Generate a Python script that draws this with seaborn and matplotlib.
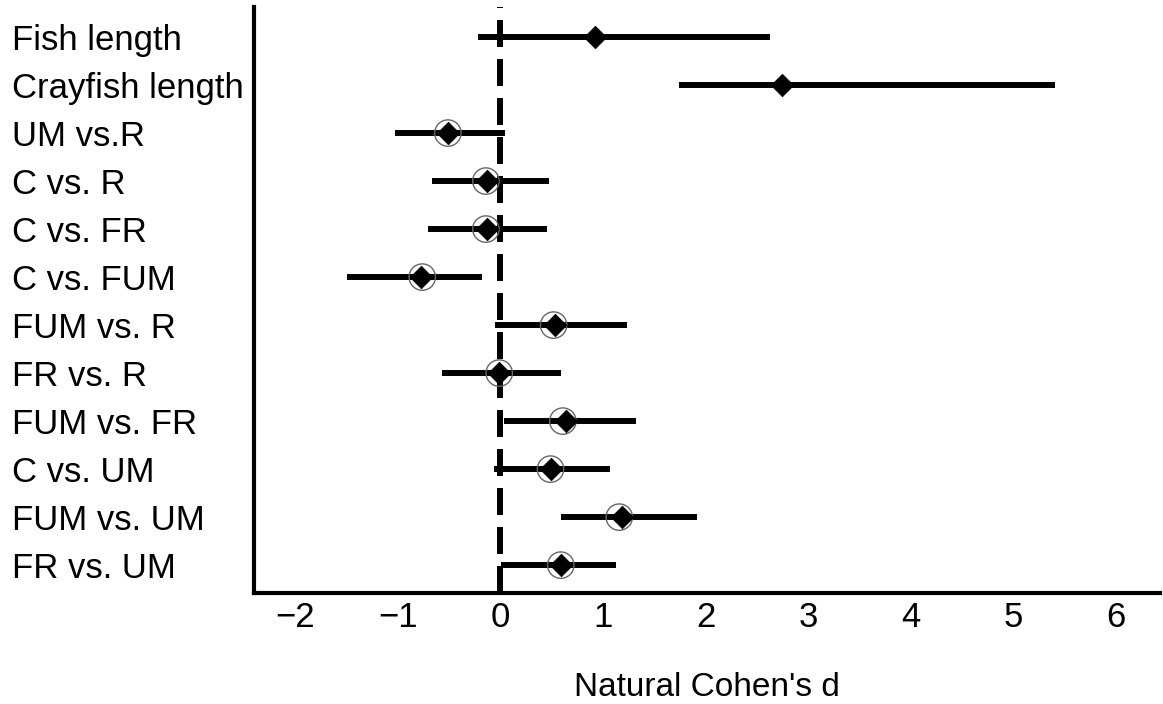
import matplotlib
matplotlib.use("Agg")
import matplotlib.pyplot as plt
import seaborn as sns
import numpy as np
import pandas as pd

labels = ["Fish length", "Crayfish length", "UM vs.R", "C vs. R", "C vs. FR",
          "C vs. FUM", "FUM vs. R", "FR vs. R", "FUM vs. FR", "C vs. UM",
          "FUM vs. UM", "FR vs. UM"]
d_est = [0.92, 2.75, -0.51, -0.13, -0.13, -0.77, 0.53, -0.01, 0.64, 0.49, 1.19, 0.59]
d_raw = [np.nan, np.nan, -0.51, -0.14, -0.14, -0.76, 0.52, -0.01, 0.61, 0.49, 1.16, 0.59]
ci_lo = [-0.22, 1.74, -1.03, -0.67, -0.70, -1.49, -0.05, -0.57, 0.04, -0.06, 0.59, 0.01]
ci_hi = [2.63, 5.41, 0.05, 0.48, 0.46, -0.18, 1.24, 0.59, 1.32, 1.07, 1.92, 1.13]
xticks = [-2, -1, 0, 1, 2, 3, 4, 5, 6]

df = pd.DataFrame({"label": labels, "d": d_est, "raw": d_raw,
                   "lo": ci_lo, "hi": ci_hi})
df["pos"] = np.arange(len(df))

sns.set_theme(style="white")
plt.rcParams["font.family"] = ["Liberation Sans", "DejaVu Sans"]
plt.rcParams["lines.scale_dashes"] = True

fig = plt.figure(figsize=(11.63, 7.04), dpi=100)
ax = fig.add_axes([0.2184, 0.1577, 0.7790, 0.8323])

ax.hlines(df["pos"], df["lo"], df["hi"], color="black", lw=4.3, zorder=2)
vl = ax.axvline(0, color="black", lw=4.3, zorder=3)
vl.set_dashes((27 * 0.72 / 4.3, 12 * 0.72 / 4.3))
sns.scatterplot(data=df.dropna(subset=["raw"]), x="raw", y="pos", ax=ax,
                marker="o", s=19**2, facecolor="none", edgecolor="#666666",
                linewidth=1.0, zorder=4, legend=False)
sns.scatterplot(data=df, x="d", y="pos", ax=ax, marker="D", s=11.5**2,
                color="black", edgecolor="black", linewidth=0.5, zorder=5,
                legend=False)

ax.set_xlim(-2.40, 6.43)
ax.set_ylim(11.58, -0.625)
ax.set_xticks(xticks)
ax.set_xticklabels(["\u2212" + str(abs(t)) if t < 0 else str(t) for t in xticks])
ax.set_yticks(df["pos"])
ax.set_yticklabels(labels)
ax.tick_params(axis="both", labelsize=25, colors="black", length=3, width=3,
               direction="out")
# left-aligned labels starting near x = 12 px
ax.tick_params(axis="y", pad=(254 - 12) * 72 / 100 - 3)
for t in ax.get_yticklabels():
    t.set_horizontalalignment("left")
ax.tick_params(axis="x", pad=3)
ax.set_xlabel("Natural Cohen's d", fontsize=24, labelpad=27, color="black")
ax.set_ylabel("")

for s in ["top", "right"]:
    ax.spines[s].set_visible(False)
for s in ["left", "bottom"]:
    ax.spines[s].set_linewidth(3)
    ax.spines[s].set_color("black")

fig.savefig("out.png", dpi=100)
